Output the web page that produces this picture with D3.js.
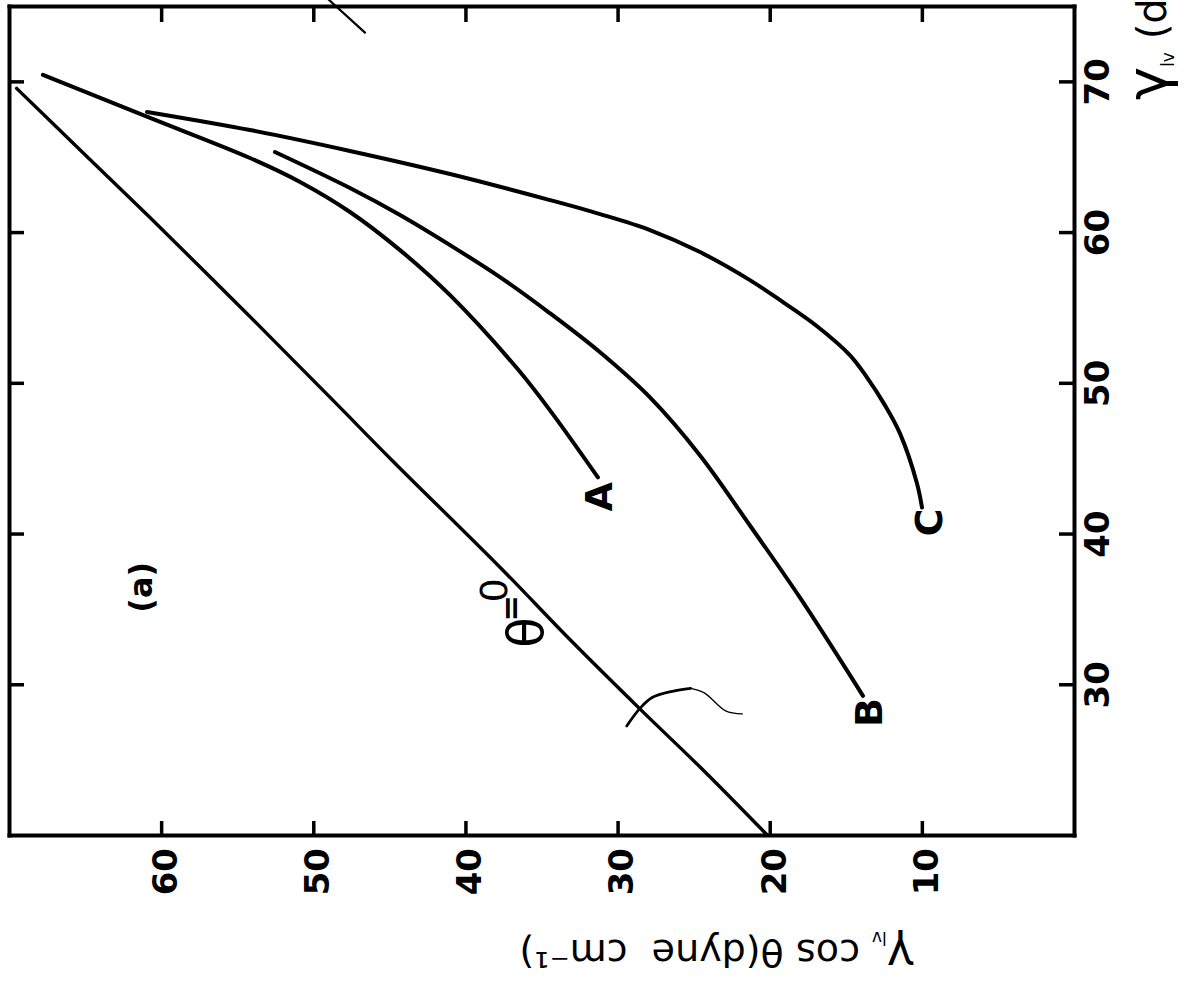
<!DOCTYPE html>
<html>
<head>
<meta charset="utf-8">
<script src="https://cdn.jsdelivr.net/npm/d3@7"></script>
<style>
  html, body { margin: 0; padding: 0; background: #fff; }
  svg { display: block; }
</style>
</head>
<body>
<svg id="chart" width="1184" height="982"></svg>
<script>
// γlv cosθ plotted against γlv (both in dyne cm⁻¹), panel (a)

const xTicks = [30, 40, 50, 60, 70];
const yTicks = [10, 20, 30, 40, 50, 60];

// θ = 0 reference line
const thetaZeroX = [20.1, 24.2, 28.4, 33.0, 37.8, 44.9, 48.9, 55.0, 61.0, 65.0, 69.6];
const thetaZeroY = [20.2, 24.2, 28.5, 33.1, 37.7, 44.8, 48.7, 54.7, 60.7, 64.8, 69.5];

// curve A
const curveAX = [70.5, 67.64, 64.98, 63.39, 61.4, 58.87, 55.88, 51.03, 48.24, 43.79];
const curveAY = [67.77, 60.73, 54.16, 50.87, 47.59, 44.3, 41.01, 36.61, 34.44, 31.29];

// curve B
const curveBX = [65.38, 62.99, 61.2, 59.2, 57.08, 54.68, 52.09, 49.1, 45.25, 40.6, 35.81, 29.3];
const curveBY = [52.52, 47.59, 44.3, 41.01, 37.73, 34.44, 31.15, 27.87, 24.58, 21.3, 18.01, 13.87];

// curve C
const curveCX = [68.04, 66.84, 65.45, 63.92, 62.19, 61.26, 60.2, 58.74, 56.88, 55.42, 53.82, 51.89, 50.43, 48.57, 46.71, 43.39, 41.79];
const curveCY = [60.93, 54.16, 47.59, 41.01, 34.44, 31.15, 27.87, 24.58, 21.3, 19.13, 16.89, 14.72, 13.61, 12.42, 11.44, 10.32, 9.99];

// small hand-drawn arc across the θ = 0 line, and its faint tail
const arcX = [27.3, 28.5, 29.2, 29.6, 29.8];
const arcY = [29.4, 28.5, 27.7, 26.4, 25.2];
const arcTailX = [29.8, 29.5, 28.3, 28.1];
const arcTailY = [25.2, 24.3, 22.9, 21.8];

// stray pen stroke over the upper frame edge
const strayX = [75.5, 73.3];
const strayY = [49.0, 46.6];

// curve letters and their anchor points (data units)
const curveNames = ["A", "B", "C"];
const curveNameX = [42.5, 28.2, 40.8];
const curveNameY = [31.2, 13.5, 9.5];

const W = 1184, H = 982;
const FONT = "'DejaVu Sans', Arial, sans-serif";

const svg = d3.select("#chart");
svg.append("rect").attr("width", W).attr("height", H).attr("fill", "#fff");

// The whole figure is printed a quarter turn counter-clockwise:
// draw it upright inside a group and turn the group.
const g = svg.append("g").attr("transform", `translate(0,${H}) rotate(-90)`);

const x = d3.scaleLinear().domain([20, 75]).range([146, 975]);
const y = d3.scaleLinear().domain([0, 70]).range([1074, 9]);

function styleAxis(sel) {
  sel.select(".domain")
    .attr("stroke", "#000").attr("stroke-width", 4).attr("stroke-linecap", "square");
  sel.selectAll(".tick line").attr("stroke", "#000").attr("stroke-width", 3.5);
  sel.selectAll(".tick text")
    .attr("font-family", FONT).attr("font-weight", "bold")
    .attr("font-size", 34).attr("fill", "#000");
}

// bottom axis (γlv) with inward ticks
g.append("g")
  .attr("transform", `translate(0,${y(0)})`)
  .call(d3.axisBottom(x).tickValues(xTicks).tickSizeInner(-15).tickSizeOuter(0).tickPadding(11))
  .call(styleAxis);

// top edge: ticks only
g.append("g")
  .attr("transform", `translate(0,${y(70)})`)
  .call(d3.axisTop(x).tickValues(xTicks).tickSizeInner(-15).tickSizeOuter(0).tickFormat(() => ""))
  .call(styleAxis);

// left axis (γlv cosθ)
g.append("g")
  .attr("transform", `translate(${x(20)},0)`)
  .call(d3.axisLeft(y).tickValues(yTicks).tickSizeInner(-15).tickSizeOuter(0).tickPadding(12))
  .call(styleAxis)
  .selectAll(".tick text").attr("dy", "0.45em");

// right edge: ticks only
g.append("g")
  .attr("transform", `translate(${x(75)},0)`)
  .call(d3.axisRight(y).tickValues(yTicks).tickSizeInner(-15).tickSizeOuter(0).tickFormat(() => ""))
  .call(styleAxis);

const zip = (xs, ys) => xs.map((v, i) => [v, ys[i]]);
const line = d3.line()
  .x(d => x(d[0])).y(d => y(d[1]))
  .curve(d3.curveCatmullRom.alpha(0.5));

const series = [
  { pts: zip(thetaZeroX, thetaZeroY), w: 3.4 },
  { pts: zip(curveAX, curveAY), w: 4 },
  { pts: zip(curveBX, curveBY), w: 4 },
  { pts: zip(curveCX, curveCY), w: 4 },
  { pts: zip(arcX, arcY), w: 2.8 },
  { pts: zip(arcTailX, arcTailY), w: 1.3 },
  { pts: zip(strayX, strayY), w: 2.2 }
];

g.append("g").selectAll("path")
  .data(series)
  .join("path")
  .attr("d", d => line(d.pts))
  .attr("fill", "none")
  .attr("stroke", "#000")
  .attr("stroke-width", d => d.w)
  .attr("stroke-linecap", "round")
  .attr("stroke-linejoin", "round");

// curve letters
g.append("g").selectAll("text")
  .data(curveNames)
  .join("text")
  .attr("x", (d, i) => x(curveNameX[i]))
  .attr("y", (d, i) => y(curveNameY[i]))
  .attr("text-anchor", "middle")
  .attr("dominant-baseline", "central")
  .attr("font-family", FONT).attr("font-weight", "bold")
  .attr("font-size", 38)
  .text(d => d);

// panel tag
g.append("text")
  .attr("x", x(36.5)).attr("y", y(61.3))
  .attr("text-anchor", "middle").attr("dominant-baseline", "central")
  .attr("font-family", FONT).attr("font-weight", "bold").attr("font-size", 32)
  .text("(a)");

// "θ = 0" written as a staircase along the reference line
const thetaLabel = [
  { t: "θ", gx: 33.5, gy: 36.0, s: 50, w: "normal" },
  { t: "=", gx: 35.1, gy: 37.0, s: 32, w: "bold" },
  { t: "0", gx: 36.3, gy: 38.1, s: 38, w: "normal" }
];
g.append("g").selectAll("text")
  .data(thetaLabel)
  .join("text")
  .attr("x", d => x(d.gx)).attr("y", d => y(d.gy))
  .attr("text-anchor", "middle").attr("dominant-baseline", "central")
  .attr("font-family", FONT).attr("font-weight", d => d.w)
  .attr("font-size", d => d.s)
  .text(d => d.t);

// y-axis title
const yTitle = g.append("text")
  .attr("transform", "translate(42,914) rotate(-90)")
  .attr("text-anchor", "start")
  .attr("font-family", FONT)
  .attr("font-size", 38)
  .attr("xml:space", "preserve");
yTitle.append("tspan").attr("font-size", 46).text("γ");
yTitle.append("tspan").attr("font-size", 17).attr("dy", 8).text("lv");
yTitle.append("tspan").attr("dy", -8).text(" cos θ(dyne\u00a0\u00a0cm⁻¹)");

// x-axis title, running past the edge of the sheet
const xTitle = g.append("text")
  .attr("x", 882).attr("y", 1166)
  .attr("text-anchor", "start")
  .attr("font-family", FONT)
  .attr("font-size", 40);
xTitle.append("tspan").attr("font-size", 56).text("γ");
xTitle.append("tspan").attr("font-size", 17).attr("dy", 8).text("lv");
xTitle.append("tspan").attr("dy", -8).text(" (dyne cm⁻¹)");
</script>
</body>
</html>
